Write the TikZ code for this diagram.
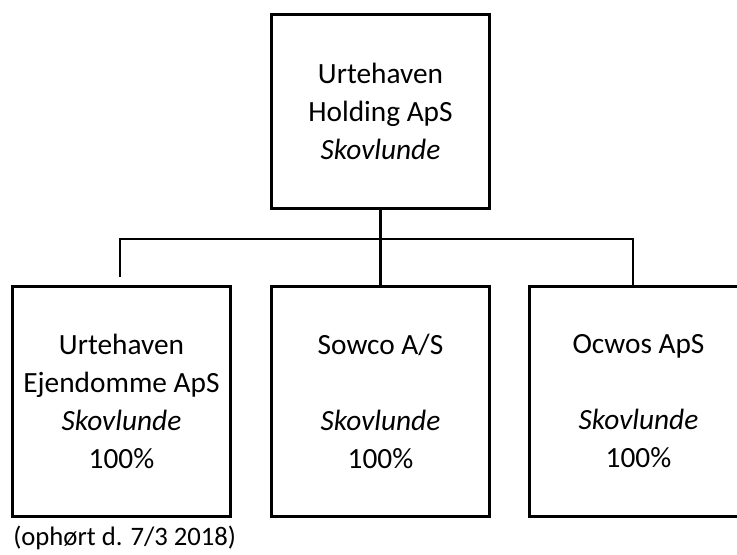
\documentclass[tikz,border=0pt]{standalone}
\usepackage{fontspec}
\setmainfont{Carlito}
\usetikzlibrary{positioning}
\tikzset{
  firm/.style={draw,line width=2.25pt,align=center,inner sep=0pt,
    minimum width=164pt,minimum height=172pt,
    font=\fontsize{22}{28.5}\selectfont},
  link/.style={line width=1.7pt},
}
\begin{document}
\begin{tikzpicture}[x=0.75pt,y=-0.75pt]
  \useasboundingbox (0,0) rectangle (737,554);
  \clip (0,0) rectangle (737,554);
  % owner and companies
  \node[firm,minimum height=145.5pt] (hold) at (380.5,111) {Urtehaven\\Holding ApS\\\textit{Skovlunde}};
  \node[firm] (ejd) at (121.5,401.5) {Urtehaven\\Ejendomme ApS\\\textit{Skovlunde}\\100\%};
  \node[firm] (sow) at (380.5,401.5) {Sowco A/S\\~\\\textit{Skovlunde}\\100\%};
  \node[firm] (ocw) at (638.5,401.5) {Ocwos ApS\\~\\\textit{Skovlunde}\\100\%};
  \node[anchor=base west,inner sep=0pt,font=\fontsize{20}{24}\selectfont] (note) at (13,545) {(ophørt d. 7/3 2018)};
  % bus
  \coordinate (busL) at (120,239);
  \coordinate (busR) at (633,239);
  \coordinate (stubL) at (120,277);
  \draw[link] (hold.south) -- (sow.north);
  \draw[link] (stubL) -- (busL) -- (busR) -- (busR |- ocw.north);
\end{tikzpicture}
\end{document}
